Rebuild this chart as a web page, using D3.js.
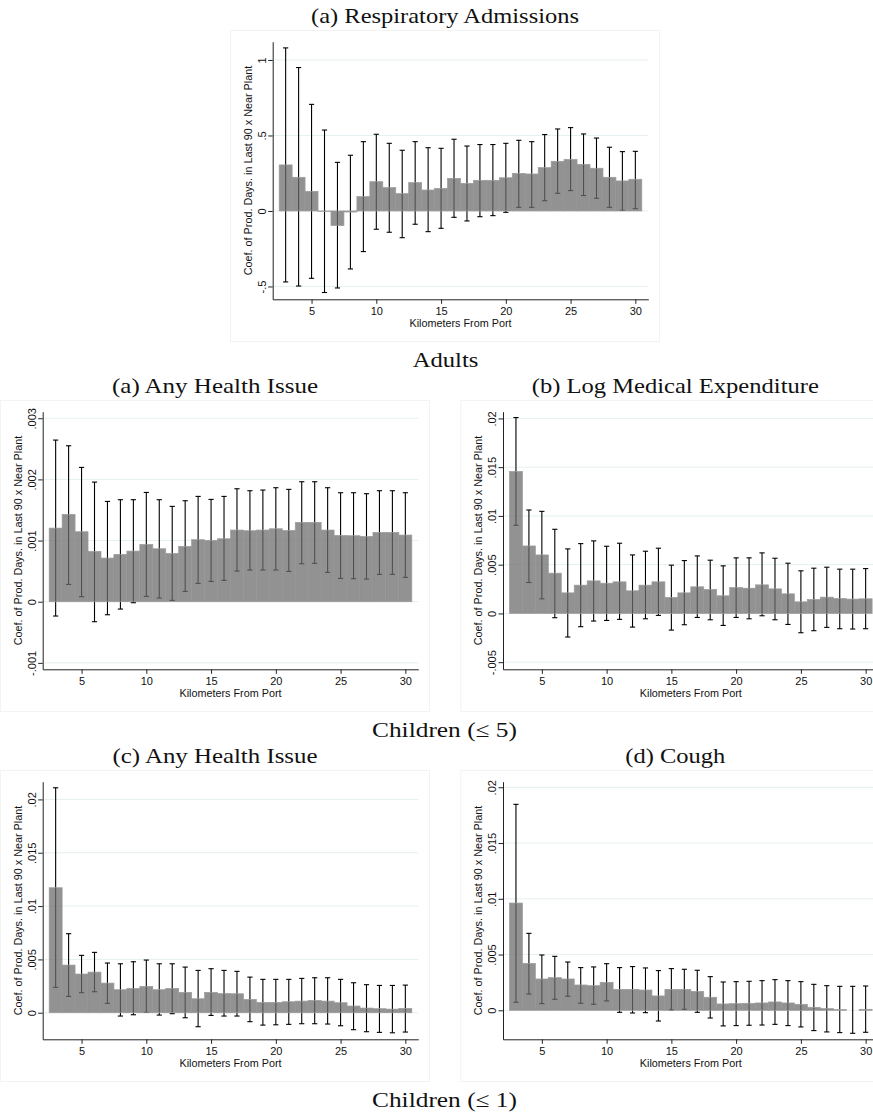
<!DOCTYPE html>
<html>
<head>
<meta charset="utf-8">
<script src="https://cdn.jsdelivr.net/npm/d3@7"></script>
<style>
  html, body { margin: 0; padding: 0; background: #ffffff; }
  svg { display: block; }
  .serif { font-family: "Liberation Serif", "DejaVu Serif", serif; fill: #111; }
  .sans { font-family: "Liberation Sans", Arial, sans-serif; fill: #111; }
</style>
</head>
<body>
<svg id="chart" width="873" height="1115"></svg>
<script>
// Distance bins (km from port) and axis ticks shared by every panel
const kmFromPort = [3, 4, 5, 6, 7, 8, 9, 10, 11, 12, 13, 14, 15, 16, 17, 18, 19, 20,
                    21, 22, 23, 24, 25, 26, 27, 28, 29, 30];
const kmTicks = [5, 10, 15, 20, 25, 30];

// (a) Respiratory admissions: coefficient and 95% CI
const respCoef = [0.305, 0.223, 0.130, -0.003, -0.097, -0.007, 0.095, 0.194, 0.155, 0.115,
                  0.188, 0.139, 0.150, 0.216, 0.183, 0.203, 0.203, 0.220, 0.249, 0.245,
                  0.287, 0.329, 0.342, 0.309, 0.283, 0.223, 0.199, 0.210];
const respLo = [-0.470, -0.497, -0.446, -0.540, -0.510, -0.384, -0.269, -0.121, -0.141, -0.177,
                -0.088, -0.137, -0.115, -0.042, -0.066, -0.038, -0.031, -0.009, 0.024, 0.024,
                0.068, 0.117, 0.135, 0.102, 0.084, 0.024, 0.004, 0.015];
const respHi = [1.080, 0.950, 0.706, 0.536, 0.322, 0.369, 0.459, 0.508, 0.448, 0.402,
                0.459, 0.419, 0.415, 0.475, 0.430, 0.440, 0.440, 0.448, 0.468, 0.459,
                0.506, 0.543, 0.552, 0.510, 0.483, 0.422, 0.393, 0.395];
const respTicks = [-0.5, 0, 0.5, 1];

// Adults (a) Any health issue
const adultHealthCoef = [0.001204, 0.001428, 0.001144, 0.000823, 0.000714, 0.000774, 0.000828,
                         0.000937, 0.000866, 0.000790, 0.000905, 0.001014, 0.001003, 0.001030,
                         0.001172, 0.001161, 0.001172, 0.001193, 0.001166, 0.001297, 0.001297,
                         0.001172, 0.001084, 0.001079, 0.001068, 0.001134, 0.001134, 0.001090];
const adultHealthLo = [-0.000234, 0.000283, 0.000082, -0.000327, -0.000213, -0.000120, -0.000016,
                       0.000087, 0.000060, 0.000022, 0.000169, 0.000300, 0.000332, 0.000349,
                       0.000501, 0.000518, 0.000518, 0.000518, 0.000496, 0.000621, 0.000627,
                       0.000480, 0.000381, 0.000376, 0.000370, 0.000447, 0.000447, 0.000398];
const adultHealthHi = [0.002643, 0.002550, 0.002196, 0.001956, 0.001640, 0.001668, 0.001668,
                       0.001787, 0.001668, 0.001559, 0.001651, 0.001722, 0.001673, 0.001722,
                       0.001847, 0.001815, 0.001826, 0.001864, 0.001837, 0.001962, 0.001962,
                       0.001864, 0.001782, 0.001782, 0.001766, 0.001815, 0.001815, 0.001782];
const adultHealthTicks = [-0.001, 0, 0.001, 0.002, 0.003];

// Adults (b) Log medical expenditure
const adultExpCoef = [0.01456, 0.00692, 0.00600, 0.00413, 0.00211, 0.00290, 0.00334, 0.00310,
                      0.00324, 0.00232, 0.00290, 0.00324, 0.00164, 0.00211, 0.00273, 0.00246,
                      0.00181, 0.00266, 0.00259, 0.00293, 0.00252, 0.00201, 0.00119, 0.00143,
                      0.00167, 0.00153, 0.00147, 0.00150];
const adultExpLo = [0.00904, 0.00317, 0.00150, -0.00044, -0.00242, -0.00136, -0.00078, -0.00072,
                    -0.00061, -0.00140, -0.00055, -0.00020, -0.00171, -0.00116, -0.00041, -0.00065,
                    -0.00123, -0.00041, -0.00055, -0.00024, -0.00065, -0.00113, -0.00198, -0.00177,
                    -0.00143, -0.00157, -0.00160, -0.00157];
const adultExpHi = [0.02009, 0.01061, 0.01047, 0.00863, 0.00662, 0.00716, 0.00744, 0.00689,
                    0.00720, 0.00600, 0.00638, 0.00669, 0.00495, 0.00542, 0.00590, 0.00546,
                    0.00488, 0.00570, 0.00570, 0.00621, 0.00566, 0.00515, 0.00437, 0.00464,
                    0.00474, 0.00454, 0.00454, 0.00460];
const adultExpTicks = [-0.005, 0, 0.005, 0.01, 0.015, 0.02];

// Children (<= 5) (c) Any health issue
const childHealthCoef = [0.01172, 0.00447, 0.00363, 0.00381, 0.00278, 0.00216, 0.00228, 0.00247,
                         0.00216, 0.00228, 0.00191, 0.00131, 0.00191, 0.00181, 0.00178, 0.00125,
                         0.00097, 0.00097, 0.00103, 0.00109, 0.00116, 0.00109, 0.00094, 0.00063,
                         0.00044, 0.00038, 0.00034, 0.00041];
const childHealthLo = [0.00238, 0.00153, 0.00188, 0.00197, 0.00088, -0.00031, -0.00019, 0.00003,
                       -0.00022, -0.00009, -0.00047, -0.00131, -0.00025, -0.00031, -0.00031, -0.00084,
                       -0.00116, -0.00113, -0.00109, -0.00103, -0.00103, -0.00106, -0.00122, -0.00159,
                       -0.00178, -0.00184, -0.00188, -0.00181];
const childHealthHi = [0.02109, 0.00741, 0.00538, 0.00566, 0.00466, 0.00459, 0.00478, 0.00494,
                       0.00459, 0.00459, 0.00428, 0.00397, 0.00413, 0.00397, 0.00388, 0.00334,
                       0.00313, 0.00313, 0.00313, 0.00322, 0.00328, 0.00328, 0.00313, 0.00281,
                       0.00263, 0.00256, 0.00256, 0.00259];
const childHealthTicks = [0, 0.005, 0.01, 0.015, 0.02];

// Children (<= 5) (d) Cough
const childCoughCoef = [0.00962, 0.00421, 0.00281, 0.00293, 0.00281, 0.00227, 0.00221, 0.00251,
                        0.00188, 0.00188, 0.00182, 0.00129, 0.00188, 0.00188, 0.00170, 0.00117,
                        0.00057, 0.00060, 0.00063, 0.00066, 0.00075, 0.00066, 0.00054, 0.00027,
                        0.00015, 0.00006, 0.00000, 0.00009];
const childCoughLo = [0.00072, 0.00146, 0.00060, 0.00099, 0.00126, 0.00063, 0.00054, 0.00084,
                      -0.00018, -0.00024, -0.00021, -0.00096, 0.00003, 0.00009, -0.00018, -0.00069,
                      -0.00140, -0.00137, -0.00134, -0.00132, -0.00126, -0.00137, -0.00149, -0.00182,
                      -0.00194, -0.00200, -0.00206, -0.00197];
const childCoughHi = [0.01847, 0.00690, 0.00496, 0.00484, 0.00433, 0.00383, 0.00389, 0.00418,
                      0.00383, 0.00392, 0.00380, 0.00356, 0.00374, 0.00368, 0.00359, 0.00302,
                      0.00254, 0.00257, 0.00260, 0.00266, 0.00275, 0.00266, 0.00257, 0.00233,
                      0.00221, 0.00215, 0.00215, 0.00218];
const childCoughTicks = [0, 0.005, 0.01, 0.015, 0.02];

const xTitle = "Kilometers From Port";
const yTitle = "Coef. of Prod. Days. in Last 90 x Near Plant";

// ---- layout -------------------------------------------------------------
const FRAME_W = 430, FRAME_H = 312;
const PLOT = { left: 42.7, top: 11.7, width: 375.6, height: 257.6 };
const X_DOMAIN = [2, 31];

const panels = [
  { title: "(a) Respiratory Admissions", titleW: 268, fx: 230, fy: 30,
    coef: respCoef, lo: respLo, hi: respHi, ticks: respTicks, yDomain: [-0.585, 1.121] },
  { title: "(a) Any Health Issue", titleW: 206, fx: 0, fy: 400,
    coef: adultHealthCoef, lo: adultHealthLo, hi: adultHealthHi, ticks: adultHealthTicks,
    yDomain: [-0.001105, 0.003107] },
  { title: "(b) Log Medical Expenditure", titleW: 287, fx: 460.3, fy: 400,
    coef: adultExpCoef, lo: adultExpLo, hi: adultExpHi, ticks: adultExpTicks,
    yDomain: [-0.00573, 0.02069] },
  { title: "(c) Any Health Issue", titleW: 205, fx: 0, fy: 770,
    coef: childHealthCoef, lo: childHealthLo, hi: childHealthHi, ticks: childHealthTicks,
    yDomain: [-0.00249, 0.02166] },
  { title: "(d) Cough", titleW: 100, fx: 460.3, fy: 770,
    coef: childCoughCoef, lo: childCoughLo, hi: childCoughHi, ticks: childCoughTicks,
    yDomain: [-0.0026, 0.0205] }
];

const groupLabels = [
  { text: "Adults", w: 65.7, x: 445.5, y: 367 },
  { text: "Children (\u2264 5)", w: 145, x: 444.5, y: 737 },
  { text: "Children (\u2264 1)", w: 145, x: 444.5, y: 1107 }
];

// Stata-style number labels: ".5", "-.001", "0"
function stataFmt(v) {
  let s = String(+v.toPrecision(6));
  return s.replace(/^(-?)0\./, "$1.");
}

const svg = d3.select("#chart");

function drawPanel(p) {
  const g = svg.append("g").attr("transform", `translate(${p.fx},${p.fy})`);

  // faint graph-region border
  g.append("rect")
    .attr("x", 0.5).attr("y", 0.5)
    .attr("width", FRAME_W - 1).attr("height", FRAME_H - 1)
    .attr("fill", "none").attr("stroke", "#f3f3f3").attr("stroke-width", 1);

  // panel caption above the border
  svg.append("text").attr("class", "serif")
    .attr("x", p.fx + FRAME_W / 2).attr("y", p.fy - 7)
    .attr("text-anchor", "middle")
    .attr("font-size", 21)
    .attr("textLength", p.titleW).attr("lengthAdjust", "spacingAndGlyphs")
    .text(p.title);

  const plot = g.append("g").attr("transform", `translate(${PLOT.left},${PLOT.top})`);

  const x = d3.scaleLinear().domain(X_DOMAIN).range([0, PLOT.width]);
  const y = d3.scaleLinear().domain(p.yDomain).range([PLOT.height, 0]);

  // horizontal gridlines
  plot.append("g").selectAll("line")
    .data(p.ticks).join("line")
    .attr("x1", 0).attr("x2", PLOT.width)
    .attr("y1", d => y(d)).attr("y2", d => y(d))
    .attr("stroke", "#e6eff1").attr("stroke-width", 1);

  const rows = kmFromPort.map((km, i) => ({ km, coef: p.coef[i], lo: p.lo[i], hi: p.hi[i] }));

  // confidence intervals (drawn first so the translucent bars sit over them)
  const ci = plot.append("g").attr("stroke", "#000").attr("stroke-width", 1.1);
  ci.selectAll("line.v").data(rows).join("line").attr("class", "v")
    .attr("x1", d => x(d.km)).attr("x2", d => x(d.km))
    .attr("y1", d => y(d.lo)).attr("y2", d => y(d.hi));
  ci.selectAll("line.capHi").data(rows).join("line").attr("class", "capHi")
    .attr("x1", d => x(d.km) - 2.6).attr("x2", d => x(d.km) + 2.6)
    .attr("y1", d => y(d.hi)).attr("y2", d => y(d.hi));
  ci.selectAll("line.capLo").data(rows).join("line").attr("class", "capLo")
    .attr("x1", d => x(d.km) - 2.6).attr("x2", d => x(d.km) + 2.6)
    .attr("y1", d => y(d.lo)).attr("y2", d => y(d.lo));

  // coefficient bars, one km wide
  plot.append("g").selectAll("rect")
    .data(rows).join("rect")
    .attr("x", d => x(d.km - 0.5))
    .attr("width", d => x(d.km + 0.5) - x(d.km - 0.5))
    .attr("y", d => y(Math.max(d.coef, 0)))
    .attr("height", d => Math.abs(y(d.coef) - y(0)))
    .attr("fill", "#6c6c6c").attr("fill-opacity", 0.74)
    .attr("stroke", "#9c9c9c").attr("stroke-width", 0.7);

  // x axis
  const xAxis = plot.append("g").attr("transform", `translate(0,${PLOT.height})`)
    .call(d3.axisBottom(x).tickValues(kmTicks).tickSize(4.5).tickSizeOuter(0).tickPadding(3.5));
  xAxis.select(".domain").attr("stroke", "#222");
  xAxis.selectAll(".tick line").attr("stroke", "#222");
  xAxis.selectAll(".tick text")
    .attr("class", "sans").attr("font-size", 11).attr("font-family", "Liberation Sans, Arial, sans-serif")
    .attr("fill", "#111");

  // y axis with rotated labels
  const yAxis = plot.append("g")
    .call(d3.axisLeft(y).tickValues(p.ticks).tickFormat(stataFmt).tickSize(4.5).tickSizeOuter(0));
  yAxis.select(".domain").attr("stroke", "#222");
  yAxis.selectAll(".tick line").attr("stroke", "#222");
  yAxis.selectAll(".tick text")
    .attr("x", null).attr("dy", "0.35em")
    .attr("text-anchor", "middle")
    .attr("transform", "translate(-11,0) rotate(-90)")
    .attr("font-size", 11).attr("font-family", "Liberation Sans, Arial, sans-serif")
    .attr("fill", "#111");

  // axis titles
  plot.append("text").attr("class", "sans")
    .attr("x", PLOT.width / 2).attr("y", PLOT.height + 24)
    .attr("dy", "0.35em").attr("text-anchor", "middle")
    .attr("font-size", 10.8)
    .text(xTitle);

  plot.append("text").attr("class", "sans")
    .attr("transform", `translate(-24.4,${PLOT.height / 2}) rotate(-90)`)
    .attr("dy", "0.35em").attr("text-anchor", "middle")
    .attr("font-size", 10.8)
    .text(yTitle);
}

panels.forEach(drawPanel);

// population group headings
svg.selectAll("text.group").data(groupLabels).join("text")
  .attr("class", "group serif")
  .attr("x", d => d.x).attr("y", d => d.y)
  .attr("text-anchor", "middle")
  .attr("font-size", 21)
  .attr("textLength", d => d.w).attr("lengthAdjust", "spacingAndGlyphs")
  .text(d => d.text);
</script>
</body>
</html>
